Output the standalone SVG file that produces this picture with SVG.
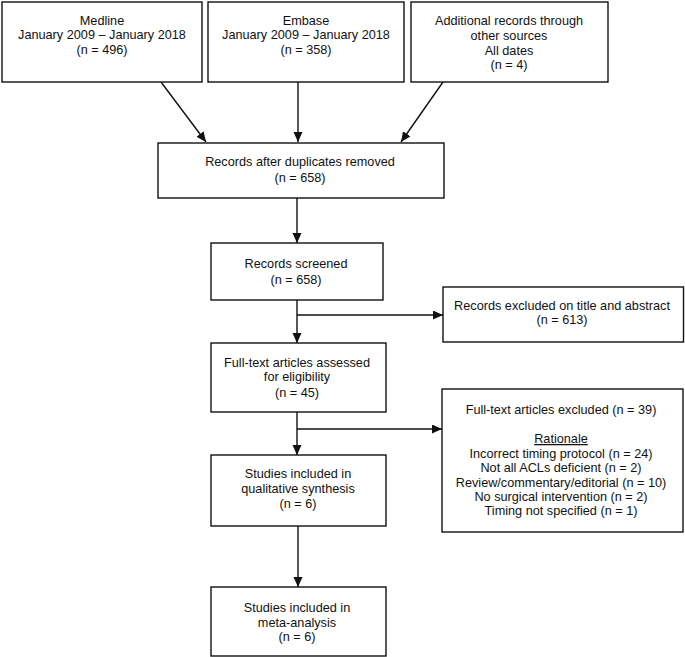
<svg xmlns="http://www.w3.org/2000/svg" width="685" height="657" viewBox="0 0 685 657">
<defs>
<style>
.box{fill:#fff;stroke:#111;stroke-width:1.4}
.t{font-family:"Liberation Sans",Arial,sans-serif;font-size:12.7px;fill:#111;text-anchor:middle}
.c{stroke:#111;stroke-width:1.4;fill:none;marker-end:url(#ah)}
</style>
<marker id="ah" markerUnits="userSpaceOnUse" markerWidth="11" markerHeight="10" refX="10" refY="4.5" orient="auto">
<path d="M0,0 L10,4.5 L0,9 z" fill="#111"/>
</marker>
</defs>
<rect width="685" height="657" fill="#fff"/>
<g id="connectors">
<line class="c" x1="161" y1="82" x2="206" y2="142"/>
<line class="c" x1="298" y1="82" x2="298" y2="142"/>
<line class="c" x1="443" y1="82" x2="401" y2="142"/>
<line class="c" x1="297" y1="198" x2="297" y2="243"/>
<line class="c" x1="297" y1="300" x2="297" y2="343"/>
<line class="c" x1="297" y1="315" x2="443" y2="315"/>
<line class="c" x1="297" y1="412" x2="297" y2="455"/>
<line class="c" x1="297" y1="429" x2="442" y2="429"/>
<line class="c" x1="298" y1="526" x2="298" y2="587"/>
</g>
<g id="medline">
<rect class="box" x="2" y="2" width="200" height="80"/>
<text class="t" x="102" y="24.5">Medline</text>
<text class="t" x="102" y="39">January 2009 – January 2018</text>
<text class="t" x="102" y="53.5">(n = 496)</text>
</g>
<g id="embase">
<rect class="box" x="208" y="2" width="196" height="80"/>
<text class="t" x="306" y="24.5">Embase</text>
<text class="t" x="306" y="39">January 2009 – January 2018</text>
<text class="t" x="306" y="53.5">(n = 358)</text>
</g>
<g id="additional">
<rect class="box" x="411" y="2" width="197" height="80"/>
<text class="t" x="509" y="25">Additional records through</text>
<text class="t" x="509" y="39.8">other sources</text>
<text class="t" x="509" y="54.5">All dates</text>
<text class="t" x="509" y="69">(n = 4)</text>
</g>
<g id="duplicates">
<rect class="box" x="158" y="143" width="286" height="55"/>
<text class="t" x="300" y="166">Records after duplicates removed</text>
<text class="t" x="300" y="182">(n = 658)</text>
</g>
<g id="screened">
<rect class="box" x="211" y="243" width="172" height="57"/>
<text class="t" x="296" y="268">Records screened</text>
<text class="t" x="296" y="283.5">(n = 658)</text>
</g>
<g id="excluded-title">
<rect class="box" x="443" y="287" width="240.5" height="55"/>
<text class="t" x="562" y="309.5">Records excluded on title and abstract</text>
<text class="t" x="562" y="324">(n = 613)</text>
</g>
<g id="fulltext">
<rect class="box" x="211" y="343" width="175" height="69"/>
<text class="t" x="297" y="367">Full-text articles assessed</text>
<text class="t" x="297" y="381.3">for eligibility</text>
<text class="t" x="297" y="396.8">(n = 45)</text>
</g>
<g id="excluded-fulltext">
<rect class="box" x="442" y="389" width="241" height="143"/>
<text class="t" x="561" y="413.5">Full-text articles excluded (n = 39)</text>
<text class="t" x="561" y="443" text-decoration="underline">Rationale</text>
<text class="t" x="561" y="457.5">Incorrect timing protocol (n = 24)</text>
<text class="t" x="561" y="472">Not all ACLs deficient (n = 2)</text>
<text class="t" x="561" y="486.5">Review/commentary/editorial (n = 10)</text>
<text class="t" x="561" y="501">No surgical intervention (n = 2)</text>
<text class="t" x="561" y="515">Timing not specified (n = 1)</text>
</g>
<g id="qualitative">
<rect class="box" x="211" y="455" width="175" height="71"/>
<text class="t" x="298" y="478">Studies included in</text>
<text class="t" x="298" y="493">qualitative synthesis</text>
<text class="t" x="298" y="508">(n = 6)</text>
</g>
<g id="meta">
<rect class="box" x="211" y="587" width="175" height="69"/>
<text class="t" x="297" y="612">Studies included in</text>
<text class="t" x="297" y="626.5">meta-analysis</text>
<text class="t" x="297" y="641">(n = 6)</text>
</g>
</svg>
